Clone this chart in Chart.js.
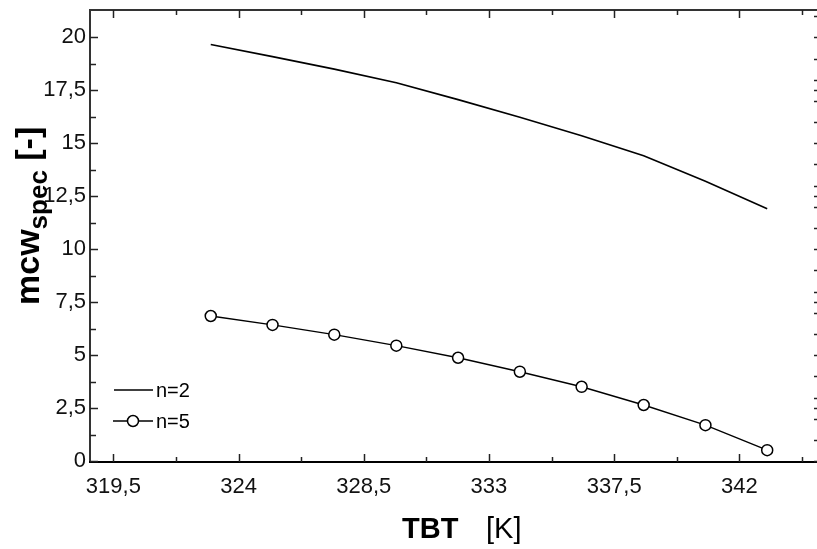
<!DOCTYPE html>
<html>
<head>
<meta charset="utf-8">
<script src="https://cdn.jsdelivr.net/npm/chart.js@4.4.1/dist/chart.umd.min.js"></script>
<style>
  html, body { margin: 0; padding: 0; background: #fff; }
  #wrap { width: 817px; height: 549px; }
</style>
</head>
<body>
<div id="wrap"><canvas id="chart"></canvas></div>
<script>
// TBT [K] and specific cooling water for the two cases
const tbt = [323, 325.22, 327.44, 329.67, 331.89, 334.11, 336.33, 338.56, 340.78, 343]
const mcwN2 = [19.66, 19.09, 18.50, 17.86, 17.06, 16.23, 15.36, 14.41, 13.21, 11.91]
const mcwN5 = [6.85, 6.43, 5.97, 5.45, 4.88, 4.22, 3.51, 2.65, 1.70, 0.52]
const seriesLabels = ['n=2', 'n=5']

const xMajorTicks = [319.5, 324, 328.5, 333, 337.5, 342]
const xMinorTicks = [321.75, 326.25, 330.75, 335.25, 339.75, 344.25]
const yMajorTicks = [0, 2.5, 5, 7.5, 10, 12.5, 15, 17.5, 20]
const yMinorTicks = [1.25, 3.75, 6.25, 8.75, 11.25, 13.75, 16.25, 18.75]
const rightTicks = [0, 1, 2, 2.5, 3, 4, 5, 6, 7, 7.5, 8, 9, 10, 11, 12, 12.5, 13, 14, 15, 16, 17, 17.5, 18, 19, 20, 21]

const FONT = '"Liberation Sans", Arial, sans-serif'
const fmt = (v) => String(v).replace('.', ',')

const pts = (ys) => tbt.map((t, i) => ({ x: t, y: ys[i] }))

// keep tick labels from shrinking the plot box
const noOverhang = (s) => {
  s.paddingLeft = 0; s.paddingRight = 0; s.paddingTop = 0; s.paddingBottom = 0
}

const frame = {
  id: 'frame',
  afterDraw (chart) {
    const { ctx, chartArea: a, scales: { x, y } } = chart
    const seg = (x1, y1, x2, y2) => {
      ctx.beginPath(); ctx.moveTo(x1, y1); ctx.lineTo(x2, y2); ctx.stroke()
    }
    ctx.save()

    // box
    ctx.strokeStyle = '#333'
    ctx.lineWidth = 2
    seg(a.left, a.top, a.right, a.top)
    seg(a.left, a.top - 1, a.left, a.bottom + 1)
    ctx.strokeStyle = '#000'
    seg(a.left - 1, a.bottom, a.right, a.bottom)

    // inward ticks
    ctx.strokeStyle = '#222'
    ctx.lineWidth = 1.5
    xMajorTicks.concat(xMinorTicks).forEach(v => {
      const px = Math.round(x.getPixelForValue(v)) + 0.5
      const len = xMajorTicks.includes(v) ? 8 : 5
      seg(px, a.bottom, px, a.bottom - len)
      seg(px, a.top, px, a.top + len)
    })
    yMajorTicks.concat(yMinorTicks).forEach(v => {
      const py = Math.round(y.getPixelForValue(v)) + 0.5
      const len = yMajorTicks.includes(v) ? 8 : 6
      seg(a.left, py, a.left + len, py)
    })
    rightTicks.forEach(v => {
      const py = Math.round(y.getPixelForValue(v)) + 0.5
      seg(a.right, py, a.right - 3, py)
    })

    // legend
    const ds = chart.data.datasets
    ctx.font = '20px ' + FONT
    ctx.fillStyle = '#000'
    ctx.textBaseline = 'middle'
    ctx.lineWidth = ds[0].borderWidth
    ctx.strokeStyle = ds[0].borderColor
    seg(114, 390, 153, 390)
    ctx.fillText(ds[0].label, 156, 391)
    ctx.lineWidth = ds[1].borderWidth
    ctx.strokeStyle = ds[1].borderColor
    seg(113, 421, 153, 421)
    ctx.beginPath()
    ctx.arc(133, 421, ds[1].pointRadius, 0, Math.PI * 2)
    ctx.fillStyle = ds[1].pointBackgroundColor
    ctx.fill()
    ctx.lineWidth = ds[1].pointBorderWidth
    ctx.stroke()
    ctx.fillStyle = '#000'
    ctx.fillText(ds[1].label, 156, 422)

    // x axis title
    ctx.textBaseline = 'alphabetic'
    ctx.font = 'bold 29px ' + FONT
    ctx.fillText('TBT', 402, 538)
    ctx.font = '29px ' + FONT
    ctx.fillText('[K]', 486, 538)

    // y axis title with subscript
    ctx.translate(39, 305)
    ctx.rotate(-Math.PI / 2)
    ctx.font = 'bold 34px ' + FONT
    ctx.fillText('mcw', 0, 0)
    let w = ctx.measureText('mcw').width
    ctx.font = 'bold 26px ' + FONT
    ctx.fillText('spec', w, 8)
    w += ctx.measureText('spec').width
    ctx.font = 'bold 34px ' + FONT
    ctx.fillText(' [-]', w, 0)

    ctx.restore()
  }
}

new Chart(document.getElementById('chart'), {
  type: 'scatter',
  data: {
    datasets: [
      {
        label: seriesLabels[0],
        data: pts(mcwN2),
        showLine: true,
        borderColor: '#000',
        borderWidth: 1.6,
        pointRadius: 0,
        pointHoverRadius: 0
      },
      {
        label: seriesLabels[1],
        data: pts(mcwN5),
        showLine: true,
        borderColor: '#000',
        borderWidth: 1.4,
        pointRadius: 5.5,
        pointBackgroundColor: '#fff',
        pointBorderColor: '#000',
        pointBorderWidth: 1.5
      }
    ]
  },
  options: {
    responsive: true,
    maintainAspectRatio: false,
    animation: false,
    layout: { autoPadding: false, padding: { top: 10, right: 0, left: 0, bottom: 0 } },
    plugins: { legend: { display: false }, tooltip: { enabled: false } },
    scales: {
      x: {
        type: 'linear',
        min: 318.66,
        max: 344.79,
        afterFit: (s) => { s.height = 87; noOverhang(s) },
        afterBuildTicks: (s) => { s.ticks = xMajorTicks.map(v => ({ value: v })) },
        grid: { display: false, drawTicks: false },
        border: { display: false },
        ticks: {
          autoSkip: false,
          maxRotation: 0,
          padding: 12,
          color: '#111',
          font: { family: FONT, size: 22 },
          callback: (v) => fmt(v)
        }
      },
      y: {
        min: -0.04,
        max: 21.29,
        afterFit: (s) => { s.width = 90; noOverhang(s) },
        afterBuildTicks: (s) => { s.ticks = yMajorTicks.map(v => ({ value: v })) },
        grid: { display: false, drawTicks: false },
        border: { display: false },
        ticks: {
          autoSkip: false,
          padding: 4,
          color: '#111',
          font: { family: FONT, size: 22 },
          callback: (v) => fmt(v)
        }
      }
    }
  },
  plugins: [frame]
})
</script>
</body>
</html>
